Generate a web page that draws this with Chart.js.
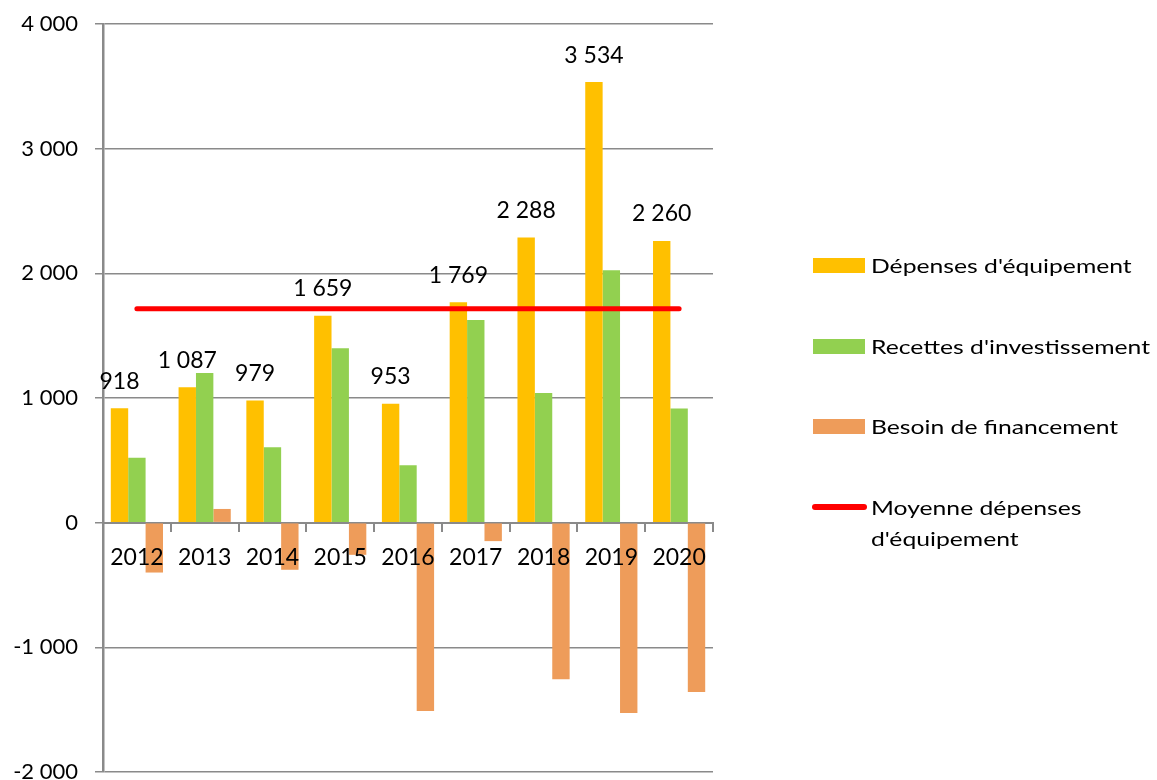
<!DOCTYPE html>
<html>
<head>
<meta charset="utf-8">
<script src="https://cdn.jsdelivr.net/npm/chart.js@4.4.1/dist/chart.umd.min.js"></script>
<style>
  html, body { margin: 0; padding: 0; background: #fff; }
  #wrap { position: relative; width: 1157px; height: 780px; overflow: hidden; }
  #c { position: absolute; left: 0; top: 0; }
  .lg { position: absolute; font-family: Lato, sans-serif; font-size: 20px; color: #000; line-height: 31px; white-space: nowrap; transform: scaleX(1.235); transform-origin: 0 50%; }
  .sw { position: absolute; }
</style>
</head>
<body>
<div id="wrap">
  <canvas id="c" width="1157" height="780"></canvas>
  <div id="legend"></div>
</div>
<script>
const categories = ['2012', '2013', '2014', '2015', '2016', '2017', '2018', '2019', '2020'];
const depenses = [918, 1087, 979, 1659, 953, 1769, 2288, 3534, 2260];
const recettes = [520, 1200, 605, 1400, 460, 1625, 1040, 2025, 915];
const besoin = [-400, 110, -378, -258, -1510, -148, -1257, -1527, -1358];
const moyenne = [1716, 1716, 1716, 1716, 1716, 1716, 1716, 1716, 1716];
const seriesNames = ["Dépenses d'équipement", "Recettes d'investissement", "Besoin de financement", "Moyenne dépenses\nd'équipement"];
const yTicks = [-2000, -1000, 0, 1000, 2000, 3000, 4000];

const colors = ['#FFC000', '#92D050', '#EE9C5A', '#FF0000'];
const FONT = 'Lato, sans-serif';

function fmt(v) { return String(v).replace(/\B(?=(\d{3})+(?!\d))/g, ' '); }

const labelPlugin = {
  id: 'valLabels',
  afterDatasetsDraw(chart) {
    const meta = chart.getDatasetMeta(1);
    const ctx = chart.ctx;
    ctx.save();
    ctx.font = '23px ' + FONT;
    ctx.fillStyle = '#000';
    ctx.textAlign = 'center';
    ctx.textBaseline = 'middle';
    meta.data.forEach((bar, i) => {
      ctx.fillText(fmt(depenses[i]), bar.x, bar.y - 27);
    });
    ctx.restore();
  }
};

function draw() {
  new Chart(document.getElementById('c'), {
    type: 'bar',
    data: {
      labels: categories,
      datasets: [
        { type: 'line', label: seriesNames[3], data: moyenne, borderColor: colors[3], backgroundColor: colors[3],
          borderWidth: 5, pointRadius: 0, borderCapStyle: 'round', order: 0 },
        { label: seriesNames[0], data: depenses, backgroundColor: colors[0], order: 1 },
        { label: seriesNames[1], data: recettes, backgroundColor: colors[1], order: 1 },
        { label: seriesNames[2], data: besoin, backgroundColor: colors[2], order: 1 }
      ]
    },
    options: {
      responsive: false,
      animation: false,
      devicePixelRatio: 1,
      layout: { padding: { left: 0, right: 444, top: 24, bottom: 8 } },
      datasets: { bar: { categoryPercentage: 0.77, barPercentage: 1.0 } },
      plugins: { legend: { display: false }, tooltip: { enabled: false } },
      scales: {
        x: {
          position: { y: 0 },
          grid: { display: true, drawOnChartArea: false, drawTicks: true, tickLength: 8, color: '#8a8a8a', lineWidth: 2, offset: true },
          border: { display: true, color: '#8a8a8a', width: 2 },
          ticks: { z: 1, padding: 13, color: '#000', font: { family: FONT, size: 23 }, maxRotation: 0, autoSkip: false },
          afterFit(s) { s.paddingLeft = 0; s.paddingRight = 0; }
        },
        y: {
          min: -2000, max: 4000,
          afterBuildTicks(s) { s.ticks = yTicks.map(v => ({ value: v })); },
          grid: { color: '#8a8a8a', lineWidth: 1.5, drawTicks: true, tickLength: 8 },
          border: { display: true, color: '#8a8a8a', width: 2.5 },
          ticks: { padding: 17, color: '#000', font: { family: FONT, size: 22 }, callback: v => fmt(v) },
          afterFit(s) { s.width = 103; s.paddingTop = 0; s.paddingBottom = 0; }
        }
      }
    },
    plugins: [labelPlugin]
  });

  // HTML legend built from series names
  const lg = document.getElementById('legend');
  const rows = [
    { name: seriesNames[0], color: colors[0], y: 265, kind: 'box' },
    { name: seriesNames[1], color: colors[1], y: 346, kind: 'box' },
    { name: seriesNames[2], color: colors[2], y: 426, kind: 'box' },
    { name: seriesNames[3], color: colors[3], y: 507, kind: 'line' }
  ];
  rows.forEach(r => {
    const sw = document.createElement('div');
    sw.className = 'sw';
    if (r.kind === 'box') {
      sw.style.cssText = `left:813px;top:${r.y - 7.5}px;width:52px;height:15px;background:${r.color};`;
    } else {
      sw.style.cssText = `left:812px;top:${r.y - 3}px;width:55px;height:6px;border-radius:3px;background:${r.color};`;
    }
    lg.appendChild(sw);
    const t = document.createElement('div');
    t.className = 'lg';
    t.style.left = '871px';
    t.style.top = (r.y - 15.5) + 'px';
    t.innerHTML = r.name.split('\n').map(s => s.replace(/&/g, '&amp;').replace(/</g, '&lt;')).join('<br>');
    lg.appendChild(t);
  });
}

if (document.fonts && document.fonts.load) {
  Promise.all([document.fonts.load('22px Lato'), document.fonts.load('20px Lato')]).then(draw, draw);
} else { draw(); }
</script>
</body>
</html>
